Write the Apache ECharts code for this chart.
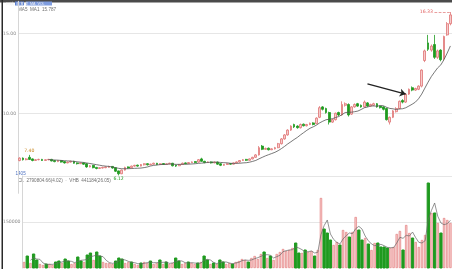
<!DOCTYPE html>
<html><head><meta charset="utf-8">
<script src="https://cdn.jsdelivr.net/npm/echarts@6/dist/echarts.min.js"></script>
<style>html,body{margin:0;padding:0;background:#fff;overflow:hidden}#c{width:452px;height:269px}</style>
</head><body><div id="c"></div>
<script>
// ---- data ----
const opens=[
7.05,7.20,7.10,7.25,7.15,7.05,7.10,7.12,7.05,7.10,
7.12,7.05,6.98,7.05,6.98,6.90,6.95,7.00,6.90,6.85,
6.90,6.85,6.65,6.75,6.62,6.55,6.58,6.60,6.62,6.68,
6.60,6.40,6.22,6.45,6.65,6.60,6.70,6.76,6.70,6.78,
6.85,6.78,6.82,6.88,6.80,6.86,6.80,6.84,6.88,6.75,
6.72,6.80,6.90,6.85,6.92,6.98,6.95,7.15,7.00,6.92,
6.96,6.90,6.95,6.85,6.75,6.80,6.86,6.82,6.90,6.96,
7.05,7.12,7.06,7.15,7.25,7.40,7.95,7.75,7.82,7.72,
7.78,7.85,8.10,8.40,8.65,8.95,9.30,9.20,9.10,9.32,
9.22,9.30,9.40,9.35,9.75,10.40,10.30,10.05,9.45,9.60,
10.05,9.90,10.50,10.55,9.95,10.40,10.60,10.50,10.40,10.65,
10.45,10.50,10.60,10.45,10.40,10.30,9.45,9.75,10.10,10.30,
10.80,10.70,11.20,11.60,11.45,11.50,11.70,13.30,14.40,13.95,
14.30,13.50,13.95,13.40,14.90,15.60];
const closes=[
7.20,7.10,7.15,7.12,7.05,7.10,7.12,7.05,7.10,7.12,
7.02,6.98,7.05,6.95,6.90,6.95,7.00,6.88,6.85,6.90,
6.82,6.65,6.72,6.60,6.55,6.60,6.62,6.65,6.68,6.58,
6.38,6.22,6.45,6.62,6.58,6.70,6.75,6.70,6.80,6.85,
6.78,6.82,6.88,6.80,6.85,6.80,6.84,6.88,6.72,6.70,
6.80,6.88,6.85,6.92,6.96,6.92,7.10,7.00,6.92,6.96,
6.90,6.95,6.82,6.75,6.80,6.85,6.82,6.90,6.96,7.05,
7.10,7.06,7.15,7.25,7.40,7.85,7.75,7.80,7.72,7.78,
7.85,8.10,8.40,8.65,8.95,9.20,9.15,9.10,9.30,9.22,
9.30,9.38,9.30,9.70,10.35,10.25,10.05,9.45,9.60,10.00,
9.90,10.55,10.60,9.90,10.40,10.55,10.45,10.40,10.70,10.45,
10.55,10.60,10.40,10.35,10.25,9.60,9.75,10.15,10.30,10.75,
10.70,11.20,11.50,11.45,11.55,11.70,12.70,13.90,14.00,14.20,
13.50,13.90,13.35,14.80,15.60,16.15];
const lows=[
7.00,7.05,7.06,7.08,7.00,7.02,7.06,7.02,7.02,7.06,
7.00,6.94,6.95,6.92,6.86,6.88,6.92,6.85,6.80,6.83,
6.78,6.60,6.62,6.56,6.50,6.52,6.55,6.57,6.60,6.54,
6.33,6.12,6.20,6.42,6.54,6.56,6.66,6.66,6.68,6.74,
6.74,6.76,6.80,6.76,6.78,6.77,6.78,6.82,6.68,6.65,
6.70,6.78,6.82,6.83,6.90,6.88,6.92,6.97,6.88,6.90,
6.86,6.88,6.78,6.70,6.72,6.78,6.79,6.80,6.86,6.92,
7.02,7.02,7.04,7.12,7.22,7.36,7.70,7.72,7.68,7.70,
7.74,7.82,8.05,8.35,8.60,8.90,9.08,9.04,9.05,9.18,
9.18,9.26,9.25,9.32,9.70,10.18,9.98,9.30,9.40,9.55,
9.82,9.85,10.42,9.80,9.90,10.35,10.40,10.35,10.36,10.40,
10.40,10.45,10.35,10.30,10.18,9.55,9.30,9.70,10.05,10.25,
10.62,10.65,11.15,11.38,11.40,11.45,11.62,13.20,13.90,13.85,
13.40,13.40,13.25,13.30,14.85,15.50];
const highs=[
7.25,7.24,7.20,7.40,7.18,7.14,7.16,7.15,7.13,7.15,
7.15,7.08,7.08,7.08,7.00,6.98,7.04,7.03,6.93,6.93,
6.93,6.88,6.76,6.77,6.65,6.63,6.66,6.68,6.72,6.70,
6.62,6.42,6.48,6.66,6.68,6.73,6.78,6.79,6.83,6.88,
6.88,6.85,6.91,6.90,6.88,6.89,6.87,6.91,6.90,6.78,
6.83,6.92,6.93,6.95,6.99,7.01,7.14,7.22,7.03,6.99,
6.99,6.98,6.98,6.88,6.83,6.88,6.89,6.93,6.99,7.08,
7.14,7.15,7.18,7.28,7.45,7.95,8.02,7.86,7.86,7.81,
7.90,8.15,8.45,8.70,9.00,9.25,9.35,9.25,9.36,9.36,
9.34,9.42,9.44,9.75,10.45,10.45,10.35,10.10,9.66,10.05,
10.10,10.75,10.68,10.62,10.45,10.62,10.65,10.55,10.80,10.70,
10.60,10.66,10.64,10.48,10.44,10.35,9.80,10.20,10.38,10.80,
10.88,11.25,11.55,11.68,11.60,11.75,12.75,13.98,14.90,14.30,
14.90,13.98,14.00,14.85,15.70,16.33];
const volumes=[
19600,39100,16300,45700,26100,13000,9800,13000,13000,9800,
19600,22800,16300,29300,22800,13000,16300,35900,22800,19600,
42400,48900,26100,52200,39100,19600,16300,16300,13000,22800,
32600,29300,16300,19600,19600,13000,9800,16300,19600,16300,
22800,13000,16300,26100,13000,19600,13000,16300,32600,22800,
13000,16300,19600,16300,13000,16300,19600,39100,26100,13000,
16300,13000,26100,19600,13000,16300,13000,19600,22800,29300,
26100,19600,32600,39100,29300,45700,52200,32600,39100,26100,
45700,52200,62000,55400,58700,65200,81500,48900,48900,58700,
52200,55400,39100,58700,228300,127200,114100,91300,75000,84800,
75000,123900,117400,101100,117400,166300,123900,91300,97800,78300,
58700,81500,81500,68500,68500,65200,65200,68500,110900,120700,
58700,140200,114100,97800,84800,68500,91300,107600,277200,179400,
179400,146700,114100,163000,156500,146700];
const priceTicks=[10,15];
const volumeTicks=[150000];
const maPeriod=10;
const volMaPeriod=3;
const headerLine1='日线  前复权  MA  VOL';
const headerLine2='MA5  MA1  15.787';
const volHeader='CL  2790804.66(4.02)  ·  VHB  441184(26.05)';
const sideLabel='1405';
// category labels: trading days from 2014-05-05
const categories=(function(){const out=[];const d=new Date(Date.UTC(2014,4,5));while(out.length<opens.length){const w=d.getUTCDay();if(w!==0&&w!==6){out.push(d.toISOString().slice(0,10));}d.setUTCDate(d.getUTCDate()+1);}return out;})();

function movingAvg(arr,n){return arr.map((v,i)=>{if(i<n-1)return '-';let s=0;for(let k=i-n+1;k<=i;k++)s+=arr[k];return +(s/n).toFixed(3);});}

const UP_FILL='#f6caca', UP_LINE='#e07474', DN='#1f9a1f';
const candleData=opens.map((o,i)=>[o,closes[i],lows[i],highs[i]]);
const volData=volumes.map((v,i)=>({value:v,itemStyle:closes[i]>=opens[i]?{color:UP_FILL,borderColor:UP_LINE,borderWidth:0.6}:{color:DN,borderColor:DN}}));
const maxHigh=Math.max(...highs), maxIdx=highs.indexOf(maxHigh);
const minLow=Math.min(...lows), minIdx=lows.indexOf(minLow);
const earlyIdx=3;

const chart=echarts.init(document.getElementById('c'),null,{renderer:'canvas'});
const fs=4.6;
chart.setOption({
  animation:false,
  backgroundColor:'#ffffff',
  textStyle:{fontFamily:'DejaVu Sans'},
  grid:[{left:16,right:0,top:1.3,height:192},{left:16,right:0,top:176,height:92}],
  xAxis:[
    {type:'category',data:categories,gridIndex:0,boundaryGap:true,axisLine:{show:false},axisTick:{show:false},axisLabel:{show:false},splitLine:{show:false}},
    {type:'category',data:categories,gridIndex:1,boundaryGap:true,axisLine:{show:false},axisTick:{show:false},axisLabel:{show:false},splitLine:{show:false}}
  ],
  yAxis:[
    {type:'value',gridIndex:0,min:5,max:17,interval:5,
     axisLine:{show:true,lineStyle:{color:'#d6d6d6',width:1}},axisTick:{show:false},
     axisLabel:{fontSize:fs,color:'#8a8a8a',margin:2,showMinLabel:false,showMaxLabel:false,
       formatter:v=>priceTicks.includes(v)?v.toFixed(2):''},
     splitLine:{show:true,showMinLine:false,showMaxLine:false,lineStyle:{color:'#e6e6e6',width:1}}},
    {type:'value',gridIndex:1,min:0,max:300000,interval:150000,
     axisLine:{show:true,lineStyle:{color:'#d6d6d6',width:1}},axisTick:{show:false},
     axisLabel:{fontSize:fs,color:'#8a8a8a',margin:2,showMinLabel:false,showMaxLabel:false,
       formatter:v=>volumeTicks.includes(v)?String(v):''},
     splitLine:{show:true,showMinLine:false,showMaxLine:true,lineStyle:{color:'#e6e6e6',width:1}}}
  ],
  series:[
    {type:'candlestick',xAxisIndex:0,yAxisIndex:0,data:candleData,barWidth:2.3,
     itemStyle:{color:UP_FILL,color0:DN,borderColor:UP_LINE,borderColor0:DN,borderWidth:0.8}},
    {type:'line',xAxisIndex:0,yAxisIndex:0,data:movingAvg(closes,maPeriod),showSymbol:false,smooth:false,
     lineStyle:{color:'#555',width:0.8},z:3,
     markPoint:{symbol:'rect',symbolSize:1,itemStyle:{color:'rgba(0,0,0,0)'},
       data:[
        {coord:[maxIdx-5,maxHigh],value:maxHigh.toFixed(2),label:{show:true,position:'left',distance:1,color:'#e05a5a',fontSize:fs}},
        {coord:[minIdx,minLow],value:minLow.toFixed(2),label:{show:true,position:'bottom',distance:0,color:'#1f9a1f',fontSize:fs}},
        {coord:[earlyIdx,highs[earlyIdx]],value:highs[earlyIdx].toFixed(2),label:{show:true,position:'top',distance:1,color:'#c8861e',fontSize:fs}}
       ]},
     markLine:{silent:true,animation:false,label:{show:false},
       data:[
        [{coord:[maxIdx-5,maxHigh],symbol:'none',lineStyle:{color:'#e07474',width:0.7,type:'dashed'}},{coord:[maxIdx,maxHigh],symbol:'none'}],
        [{coord:[109,11.84],symbol:'none',lineStyle:{color:'#222',width:1.4,type:'solid'}},{coord:[121,11.2],symbol:'arrow',symbolSize:6}]
       ]}},
    {type:'bar',xAxisIndex:1,yAxisIndex:1,data:volData,barWidth:2.3},
    {type:'line',xAxisIndex:1,yAxisIndex:1,data:movingAvg(volumes,volMaPeriod),showSymbol:false,lineStyle:{color:'#666',width:0.7},z:3}
  ],
  graphic:[
    {type:'rect',shape:{x:0,y:0,width:452,height:2.5},style:{fill:'#4a4a4a'},silent:true},
    {type:'rect',shape:{x:1.5,y:0,width:1.5,height:269},style:{fill:'#2a2a2a'},silent:true},
    {type:'rect',shape:{x:15,y:1.5,width:9,height:4},style:{fill:'#5b7fd0'},silent:true},
    {type:'rect',shape:{x:26,y:1.5,width:26,height:4},style:{fill:'#7f9de0'},silent:true},
    {type:'text',left:6,top:1.5,style:{text:headerLine1,fontSize:3.6,fill:'#f0f0f0'},silent:true},
    {type:'text',left:18,top:7,style:{text:headerLine2,fontSize:fs,fill:'#707070'},silent:true},
    {type:'text',left:15.5,top:171.5,style:{text:sideLabel,fontSize:fs,fill:'#4a6fc0'},silent:true},
    {type:'text',left:18,top:178.5,style:{text:volHeader,fontSize:fs,fill:'#707070'},silent:true}
  ]
});
</script></body></html>
